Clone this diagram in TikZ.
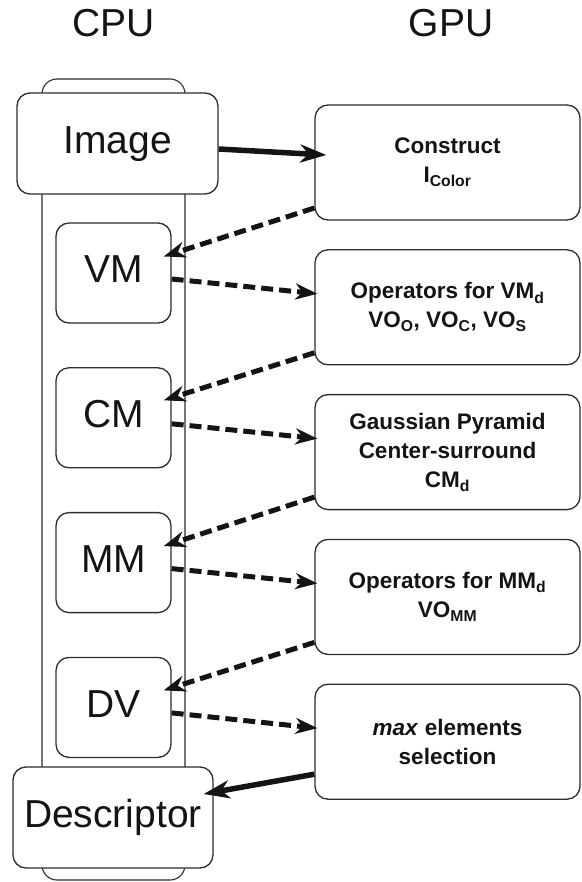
\documentclass[tikz,border=0pt]{standalone}
\usepackage{fontspec}
\setmainfont{Liberation Sans}
\usetikzlibrary{arrows.meta, positioning}
\definecolor{colLine}{RGB}{45,45,45}
\definecolor{colText}{RGB}{20,20,20}
\tikzset{
  base/.style    = {draw=colLine, line width=1.3pt, rounded corners=13pt, fill=white,
                    text=colText, align=center, inner sep=0pt},
  cpubox/.style  = {base, minimum width=115pt, minimum height=100pt,
                    font=\fontsize{39}{44}\selectfont, text height=28pt, text depth=8pt},
  cpuwide/.style = {cpubox, minimum width=201pt, minimum height=101pt},
  gpubox/.style  = {base, minimum width=265pt, minimum height=115pt,
                    font=\fontsize{22.5}{29}\selectfont\bfseries},
  column/.style  = {draw=colLine, line width=1.1pt, rounded corners=15pt,
                    minimum width=143pt, minimum height=801pt, inner sep=0pt},
  head/.style    = {font=\fontsize{39}{44}\selectfont, text=colText, anchor=base},
  arr/.style     = {-{Stealth[length=26pt, width=18pt, inset=8pt]}, line width=5.5pt, draw=colText},
  darr/.style    = {-{Stealth[length=22pt, width=16pt, inset=7pt]}, line width=5pt,
                    dash pattern=on 12pt off 6pt, draw=colText},
}
\begin{document}
\begin{tikzpicture}[x=1pt, y=-1pt]
\useasboundingbox (0,0) rectangle (581,882);

%% -- headings -----------------------------------------------------------------
\node[head] (cpuHead) at (113.5,37) {CPU};
\node[head] (gpuHead) at (451,37)   {GPU};

%% -- CPU side -----------------------------------------------------------------
\node[column] (cpuCol) at (113.5,479.5) {};

\node[cpuwide] (img) at (117.5,143.5) {Image};
\node[cpubox] (vm) at (113.5,273) {VM};
\node[cpubox, below=43.5pt of vm] (cm) {CM};
\node[cpubox, below=43.5pt of cm] (mm) {MM};
\node[cpubox, below=43.5pt of mm] (dv) {DV};
\node[cpuwide, minimum width=200pt] (desc) at (113,817.5) {Descriptor};

%% -- GPU side -----------------------------------------------------------------
\node[gpubox] (cons) at (447.5,162.5)
  {Construct\\I\textsubscript{Color}};
\node[gpubox, below=28.5pt of cons]  (opsVM)
  {Operators for VM\textsubscript{d}\\VO\textsubscript{O}, VO\textsubscript{C}, VO\textsubscript{S}};
\node[gpubox, below=28.5pt of opsVM] (gauss)
  {Gaussian Pyramid\\Center-surround\\CM\textsubscript{d}};
\node[gpubox, below=28.5pt of gauss] (opsMM)
  {Operators for MM\textsubscript{d}\\VO\textsubscript{MM}};
\node[gpubox, below=28.5pt of opsMM] (maxSel)
  {\textit{max} elements\\selection};

%% -- arrows -------------------------------------------------------------------
\draw[arr]  ([yshift=-5.5pt]img.east)    -- ([xshift=12pt, yshift=7.5pt]cons.west);
\draw[darr] ([yshift=-45.5pt]cons.west)  -- ([xshift=-8pt, yshift=16.5pt]vm.east);
\draw[darr] ([yshift=-6pt]vm.east)       -- ([xshift=3pt, yshift=13.5pt]opsVM.west);
\draw[darr] ([yshift=-45.5pt]opsVM.west) -- ([xshift=-8pt, yshift=17.5pt]cm.east);
\draw[darr] ([yshift=-6pt]cm.east)       -- ([xshift=3pt, yshift=13.5pt]gauss.west);
\draw[darr] ([yshift=-45pt]gauss.west)   -- ([xshift=-8pt, yshift=16.5pt]mm.east);
\draw[darr] ([yshift=-6pt]mm.east)       -- ([xshift=3pt, yshift=13.5pt]opsMM.west);
\draw[darr] ([yshift=-45.5pt]opsMM.west) -- ([xshift=-8pt, yshift=17pt]dv.east);
\draw[darr] ([yshift=-5.5pt]dv.east)     -- ([xshift=3pt, yshift=13.5pt]maxSel.west);
\draw[arr]  ([yshift=-32.5pt]maxSel.west) -- ([xshift=-10pt, yshift=23.5pt]desc.east);

\end{tikzpicture}
\end{document}
